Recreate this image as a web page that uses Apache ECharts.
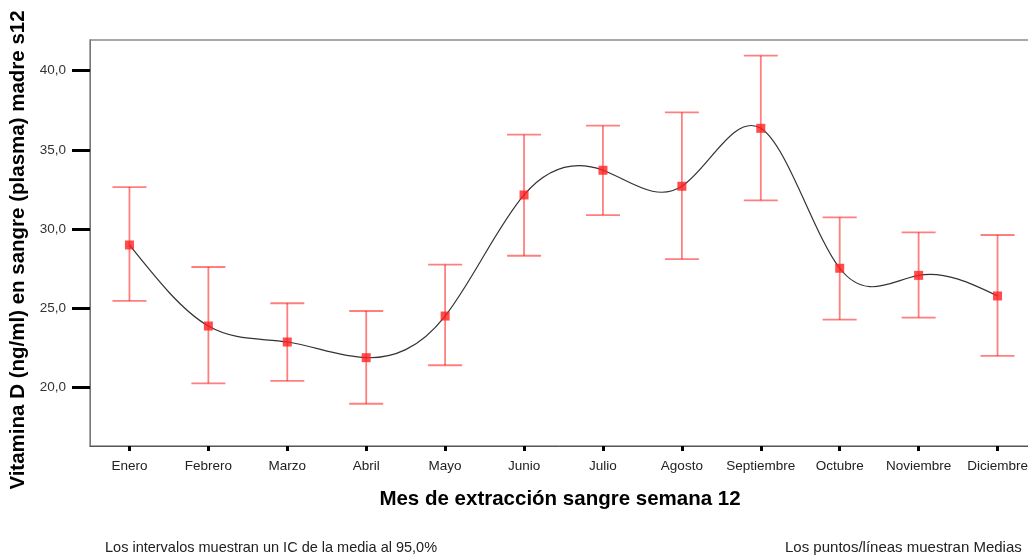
<!DOCTYPE html>
<html>
<head>
<meta charset="utf-8">
<script src="https://cdn.jsdelivr.net/npm/echarts@6/dist/echarts.min.js"></script>
<style>
  html, body { margin: 0; padding: 0; background: #fff; }
  #chart { width: 1028px; height: 557px; }
</style>
</head>
<body>
<div id="chart"></div>
<script>
// Mes de extracción y vitamina D: medias con IC 95%
const months = ['Enero', 'Febrero', 'Marzo', 'Abril', 'Mayo', 'Junio', 'Julio',
                'Agosto', 'Septiembre', 'Octubre', 'Noviembre', 'Diciembre'];
const means = [28.99, 23.87, 22.86, 21.87, 24.50, 32.15, 33.71, 32.70, 36.36, 27.52, 27.07, 25.77];
const ciLow = [25.46, 20.25, 20.40, 18.96, 21.39, 28.31, 30.88, 28.10, 31.81, 24.27, 24.40, 21.98];
const ciHigh = [32.65, 27.60, 25.31, 24.82, 27.75, 35.96, 36.53, 37.37, 40.95, 30.74, 29.79, 29.62];
const yTicks = [20, 25, 30, 35, 40];

const FONT = '"Liberation Sans", Arial, sans-serif';
const NARROW = '"Liberation Sans Narrow", "Arial Narrow", "Liberation Sans", sans-serif';

// Natural cubic spline through the means (unit spacing): second derivatives
function splineSecondDerivs(y) {
  const n = y.length;
  const M = new Array(n).fill(0);
  if (n < 3) return M;
  const a = [], b = [], c = [], d = [];
  for (let i = 1; i < n - 1; i++) {
    a.push(1); b.push(4); c.push(1);
    d.push(6 * (y[i + 1] - 2 * y[i] + y[i - 1]));
  }
  const m = d.length;
  for (let i = 1; i < m; i++) {
    const w = a[i] / b[i - 1];
    b[i] -= w * c[i - 1];
    d[i] -= w * d[i - 1];
  }
  const sol = new Array(m);
  sol[m - 1] = d[m - 1] / b[m - 1];
  for (let i = m - 2; i >= 0; i--) sol[i] = (d[i] - c[i] * sol[i + 1]) / b[i];
  for (let i = 0; i < m; i++) M[i + 1] = sol[i];
  return M;
}
const M2 = splineSecondDerivs(means);

const errData = months.map((m, i) => [i, ciLow[i], ciHigh[i]]);
const curveData = means.map((v, i) => [i, v]);

const chart = echarts.init(document.getElementById('chart'), null, { renderer: 'canvas' });

chart.setOption({
  animation: false,
  backgroundColor: '#ffffff',
  grid: {
    left: 90, top: 40, width: 947, height: 406,
    outerBoundsMode: 'none',
    show: true, borderColor: '#8c8c8c', borderWidth: 1.5, backgroundColor: 'transparent'
  },
  xAxis: {
    type: 'category',
    data: months,
    boundaryGap: true,
    axisLine: { show: true, lineStyle: { color: '#555', width: 1 } },
    axisTick: { show: true, alignWithLabel: true, length: 5, lineStyle: { color: '#000', width: 3 } },
    axisLabel: { color: '#222', fontFamily: FONT, fontSize: 13.5, margin: 13, interval: 0 },
    splitLine: { show: false }
  },
  yAxis: {
    type: 'value',
    min: 16.29,
    max: 41.94,
    axisLine: { show: true, lineStyle: { color: '#777', width: 1 } },
    axisTick: {
      show: true, length: 18, customValues: yTicks,
      lineStyle: { color: '#000', width: 3 }
    },
    axisLabel: {
      customValues: yTicks,
      color: '#333', fontFamily: FONT, fontSize: 13.5, margin: 24,
      formatter: v => v.toFixed(1).replace('.', ',')
    },
    splitLine: { show: false }
  },
  graphic: [
    {
      type: 'text', x: 18, y: 250, rotation: Math.PI / 2,
      style: {
        text: 'Vitamina D (ng/ml) en sangre (plasma) madre s12',
        font: 'bold 20.5px ' + FONT, fill: '#000', align: 'center', verticalAlign: 'middle'
      }
    },
    {
      type: 'text', x: 560, y: 499,
      style: {
        text: 'Mes de extracción sangre semana 12',
        font: 'bold 20.5px ' + FONT, fill: '#000', align: 'center', verticalAlign: 'middle'
      }
    },
    {
      type: 'text', x: 105, y: 548,
      style: {
        text: 'Los intervalos muestran un IC de la media al 95,0%',
        font: '14.5px ' + NARROW, fill: '#222', align: 'left', verticalAlign: 'middle'
      }
    },
    {
      type: 'text', x: 785, y: 548,
      style: {
        text: 'Los puntos/líneas muestran Medias',
        font: '15px ' + NARROW, fill: '#222', align: 'left', verticalAlign: 'middle'
      }
    }
  ],
  series: [
    {
      // intervalos de confianza
      type: 'custom',
      data: errData,
      z: 2,
      renderItem: function (params, api) {
        const x = api.value(0);
        const lo = api.coord([x, api.value(1)]);
        const hi = api.coord([x, api.value(2)]);
        const half = 17;
        const style = { stroke: 'rgba(255, 0, 0, 0.5)', lineWidth: 1.8 };
        return {
          type: 'group',
          children: [
            { type: 'line', shape: { x1: hi[0], y1: hi[1], x2: lo[0], y2: lo[1] }, style },
            { type: 'line', shape: { x1: hi[0] - half, y1: hi[1], x2: hi[0] + half, y2: hi[1] }, style },
            { type: 'line', shape: { x1: lo[0] - half, y1: lo[1], x2: lo[0] + half, y2: lo[1] }, style }
          ]
        };
      }
    },
    {
      // curva de interpolación entre medias (segmentos Bézier del spline)
      type: 'custom',
      data: curveData,
      z: 3,
      renderItem: function (params, api) {
        const i = params.dataIndex;
        if (i >= means.length - 1) return null;
        const y0 = means[i], y1 = means[i + 1];
        const s0 = (y1 - y0) - (2 * M2[i] + M2[i + 1]) / 6;
        const s1 = (y1 - y0) + (M2[i] + 2 * M2[i + 1]) / 6;
        const p0 = api.coord([i, y0]);
        const p1 = api.coord([i + 1, y1]);
        const dx = p1[0] - p0[0];
        const c0 = api.coord([i, y0 + s0 / 3]);
        const c1 = api.coord([i + 1, y1 - s1 / 3]);
        return {
          type: 'bezierCurve',
          shape: {
            x1: p0[0], y1: p0[1], x2: p1[0], y2: p1[1],
            cpx1: p0[0] + dx / 3, cpy1: c0[1],
            cpx2: p1[0] - dx / 3, cpy2: c1[1]
          },
          style: { stroke: '#333', lineWidth: 1.2, fill: null }
        };
      }
    },
    {
      // medias
      type: 'scatter',
      data: means,
      z: 4,
      symbol: 'rect',
      symbolSize: 9,
      itemStyle: { color: '#ff2020' }
    }
  ]
});
</script>
</body>
</html>
